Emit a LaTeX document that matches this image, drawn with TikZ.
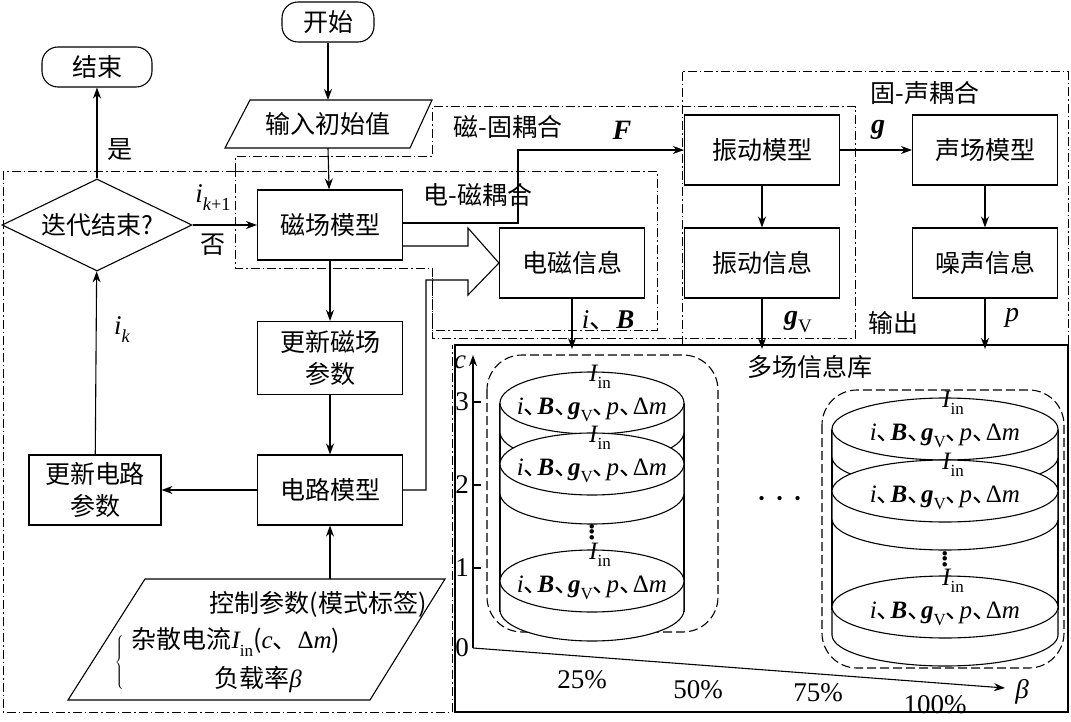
\documentclass[tikz,border=0pt]{standalone}
\usepackage{fontspec}
\setmainfont{Noto Sans CJK SC}
\newfontfamily\tms{Liberation Serif}
\usetikzlibrary{shapes.geometric,arrows.meta}
\newcommand{\vi}[1]{{\tms\itshape #1}}
\newcommand{\vb}[1]{{\tms\bfseries\itshape #1}}
\newcommand{\sbs}[1]{\raisebox{-0.3em}{\scalebox{0.68}{\tms #1}}}
\newcommand{\dun}{\hbox to 0.55em{、\hss}}
\newcommand{\Iin}{\vi{I}\sbs{in}}
\newcommand{\lay}{\vi{i}\dun\vb{B}\dun\vb{g}\sbs{V}\dun\vi{p}\dun{\tms Δ}\vi{m}}
\begin{document}
\begin{tikzpicture}[x=1pt,y=-1pt,line width=1.1pt,
  >={Stealth[length=11pt,width=8pt]},
  box/.style={draw,minimum width=145pt,minimum height=70pt,font=\fontsize{25}{28}\selectfont,inner sep=1pt},
  term/.style={draw,rounded corners=16pt,minimum height=40pt,font=\fontsize{25}{28}\selectfont},
  dd/.style={line width=1pt,dash pattern=on 9pt off 3pt on 1.5pt off 3pt},
  lbl/.style={font=\fontsize{25}{28}\selectfont,inner sep=1pt},
  lay/.style={font=\fontsize{25}{27}\selectfont,inner sep=0pt},
  tk/.style={font=\fontsize{27}{29}\selectfont\tms,inner sep=1pt}]
\useasboundingbox (0,0) rectangle (1071,722);
% dash-dot regions
\draw[dd] (235,172) -- (3,172) -- (3,712) -- (452,712) -- (452,345);
\draw[dd] (235,172) -- (657,172) -- (657,330) -- (432,330) -- (432,268) -- (235,268) -- cycle;
\draw[dd] (235,172) -- (235,157) -- (432,157) -- (432,107) -- (855,107) -- (855,338) -- (432,338) -- (432,268);
\draw[dd] (682,72) rectangle (1068,345);
\draw (455,345) rectangle (1068,712);
% nodes
\node[term,minimum width=92pt] (start) at (328,22) {开始};
\node[term,minimum width=110pt] (end) at (97,67) {结束};
\draw (250,100) -- (432,100) -- (410,148) -- (225,148) -- cycle;
\node[lbl] (inp) at (328,124) {输入初始值};
\coordinate (inpT) at (328,100); \coordinate (inpB) at (328,148);
\node[box] (mag) at (330,225) {磁场模型};
\node[box,minimum height=73pt,align=center,font=\fontsize{25}{32}\selectfont] (upm) at (330,358) {更新磁场\\参数};
\node[box] (cir) at (330,490) {电路模型};
\node[box,minimum width=132pt,align=center,font=\fontsize{25}{32}\selectfont] (upc) at (95,490) {更新电路\\参数};
\node[draw,diamond,aspect=2.1,minimum width=190pt,minimum height=92pt,inner sep=0pt,font=\fontsize{25}{28}\selectfont] (it) at (97,225) {迭代结束?};
\node[box] (em) at (572,263) {电磁信息};
\node[box,minimum width=155pt] (vm) at (762,150) {振动模型};
\node[box,minimum width=155pt] (vi) at (762,263) {振动信息};
\node[box] (sm) at (985,150) {声场模型};
\node[box] (ni) at (985,263) {噪声信息};
% control parallelogram
\draw (145,579) -- (445,579) -- (370,700) -- (68,700) -- cycle;
\node[lbl] (c1) at (318,604) {控制参数(模式标签)};
\node[lbl,anchor=west] (c2) at (130,642) {杂散电流\Iin({\vi{c}}、{\tms Δ}\vi{m})};
\node[lbl] (c3) at (258,680) {负载率\vi{β}};
\node[inner sep=0pt] (br) at (120,662) {$\left\{\rule{0pt}{30pt}\right.$};
\coordinate (ctlT) at (330,579);
% flow connectors
\draw[->] (start) -- (inpT);
\draw[->] (inpB) -- (mag);
\draw[->] (mag) -- (upm);
\draw[->] (upm) -- (cir);
\draw[->] (ctlT) -- (cir);
\draw[->] (cir) -- (upc);
\draw[->] (upc) -- (it);
\draw[->] (it.east) -- (mag.west |- it.east);
\draw[->] (it.north) -- (end);
\draw[->] (mag.east |- 0,223) -- (518,223) -- (518,150) -- (vm.west);
\draw[->] (vm) -- (sm);
\draw[->] (vm) -- (vi);
\draw[->] (sm) -- (ni);
\draw[->] (em.south) -- (em.south |- 0,349);
\draw[->] (vi.south) -- (vi.south |- 0,349);
\draw[->] (ni.south) -- (ni.south |- 0,349);
% hollow arrow
\draw (mag.east |- 0,246) -- (468,246) -- (468,228) -- (em.west) -- (468,295) -- (468,280) -- (426,280) -- (426,490) -- (cir.east);
% labels
\node[lbl] at (120,150) {是};
\node[lbl,font=\fontsize{27}{29}\selectfont] at (213,198) {\vi{i}\sbs{\vi{k}+1}};
\node[lbl] at (213,245) {否};
\node[lbl,font=\fontsize{27}{29}\selectfont] at (122,330) {\vi{i}\sbs{\vi{k}}};
\node[lbl] at (478,195) {电-磁耦合};
\node[lbl] at (508,127) {磁-固耦合};
\node[lbl,font=\fontsize{28}{30}\selectfont] at (622,130) {\vb{F}};
\node[lbl] at (925,93) {固-声耦合};
\node[lbl,font=\fontsize{28}{30}\selectfont] at (878,130) {\vb{g}};
\node[lbl,font=\fontsize{27}{30}\selectfont] at (608,320) {\vi{i}、\vb{B}};
\node[lbl,font=\fontsize{28}{30}\selectfont] at (798,322) {\vb{g}\sbs{V}};
\node[lbl] at (893,323) {输出};
\node[lbl,font=\fontsize{28}{30}\selectfont] at (1012,318) {\vi{p}};
\node[lbl] at (810,367) {多场信息库};
% axes
\coordinate (O) at (473,648);
\draw[->] (O) -- (473,355);
\draw[->] (O) -- (1005,688);
\node[tk] at (460,362) {\vi{c}};
\node[tk] at (1022,692) {\vi{β}};
\node[tk] at (462,648) {0};
\foreach \y/\t in {402/3,485/2,568/1}{\draw (473,\y) -- (481,\y); \node[tk] at (462,\y) {\t};}
\node[tk] at (582,680) {25\%};
\node[tk] at (698,690) {50\%};
\node[tk] at (818,693) {75\%};
\node[tk] at (935,705) {100\%};
\node[tk] at (780,500) {\scalebox{1.6}{$\cdots$}};
% left cylinder
\draw[dash pattern=on 9pt off 4pt,rounded corners=35pt] (487,355) rectangle (718,632);
\draw (500,403) -- (500,612) (684,403) -- (684,612);
\foreach \c in {403,464,581}{
  \draw[fill=white] (500,\c) -- (500,\c+29) arc[start angle=180,end angle=360,x radius=92pt,y radius=31pt] -- (684,\c);
  \draw[fill=white] (592,\c) ellipse (92pt and 31pt);
  \node[lay] at (600,\c-26) {\Iin};
  \node[lay] at (592,\c+7) {\lay};}
\node[tk] at (592,528) {\scalebox{1.4}{$\vdots$}};
% right cylinder
\draw[dash pattern=on 9pt off 4pt,rounded corners=35pt] (822,390) rectangle (1064,668);
\draw (832,430) -- (832,610) (1058,430) -- (1058,610);
\foreach \c in {429,491,607}{
  \draw[fill=white] (832,\c) -- (832,\c+28) arc[start angle=180,end angle=360,x radius=113pt,y radius=31pt] -- (1058,\c);
  \draw[fill=white] (945,\c) ellipse (113pt and 31pt);
  \node[lay] at (953,\c-26) {\Iin};
  \node[lay] at (945,\c+7) {\lay};}
\node[tk] at (945,555) {\scalebox{1.4}{$\vdots$}};
\end{tikzpicture}
\end{document}
